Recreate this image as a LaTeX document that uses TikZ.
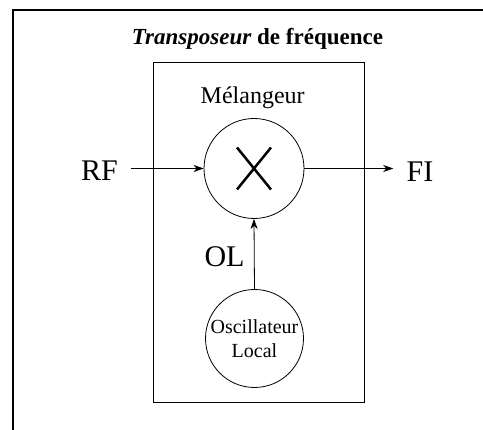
\documentclass[tikz,border=0pt]{standalone}
\usepackage{fontspec}
\setmainfont{Liberation Serif}
\usetikzlibrary{arrows.meta}
\begin{document}
\begin{tikzpicture}[x=1pt,y=-1pt,
  line width=0.8pt,
  blk/.style={circle,draw,line width=0.8pt,inner sep=0pt},
  sig/.style={-{Stealth[length=10pt,width=7pt,inset=3pt]},line width=0.8pt},
  lbl/.style={font=\fontsize{30}{30}\selectfont,inner sep=0pt}]
\useasboundingbox (0,0) rectangle (483,430);
% outer frame (cropped)
\draw[line width=2pt,line join=miter] (12.5,432) coordinate (fbl) -- (12.5,10.5) coordinate (ftl) -- (486,10.5) coordinate (ftr);
% title
\node[font=\fontsize{23}{23}\selectfont\bfseries, anchor=base, inner sep=0pt] (title) at (257.5,45) {\textit{Transposeur} de fréquence};
% inner box
\node[draw, line width=0.8pt, minimum width=211.6pt, minimum height=339.4pt, inner sep=0pt, anchor=north west] (transp) at (152.7,62.3) {};
% mixer label
\node[font=\fontsize{24}{24}\selectfont, anchor=base, inner sep=0pt] (mlab) at (252.7,104) {Mélangeur};
% mixer
\node[blk, minimum size=100pt] (mix) at (254,168.5) {};
\draw[line width=2.5pt] (mix.center) ++(-17,-21) -- ++(34,42);
\draw[line width=2.5pt] (mix.center) ++(17,-21) -- ++(-34,42);
% local oscillator
\node[blk, minimum size=98pt, align=center, font=\fontsize{20}{23.5}\selectfont] (osc) at (254.5,338.5) {Oscillateur\\Local};
% labels
\node[lbl, anchor=base] (rf) at (99.5,181) {RF};
\node[lbl, anchor=base] (fi) at (420,182) {FI};
\node[lbl, anchor=base] (ol) at (224.5,267) {OL};
% connectors
\draw[sig, shorten <=13pt] (rf.east |- mix.west) -- (mix.west);
\draw[sig, shorten >=13pt] (mix.east) -- (fi.west |- mix.east);
\draw[sig] (osc.north) -- (mix.south);
\end{tikzpicture}
\end{document}
